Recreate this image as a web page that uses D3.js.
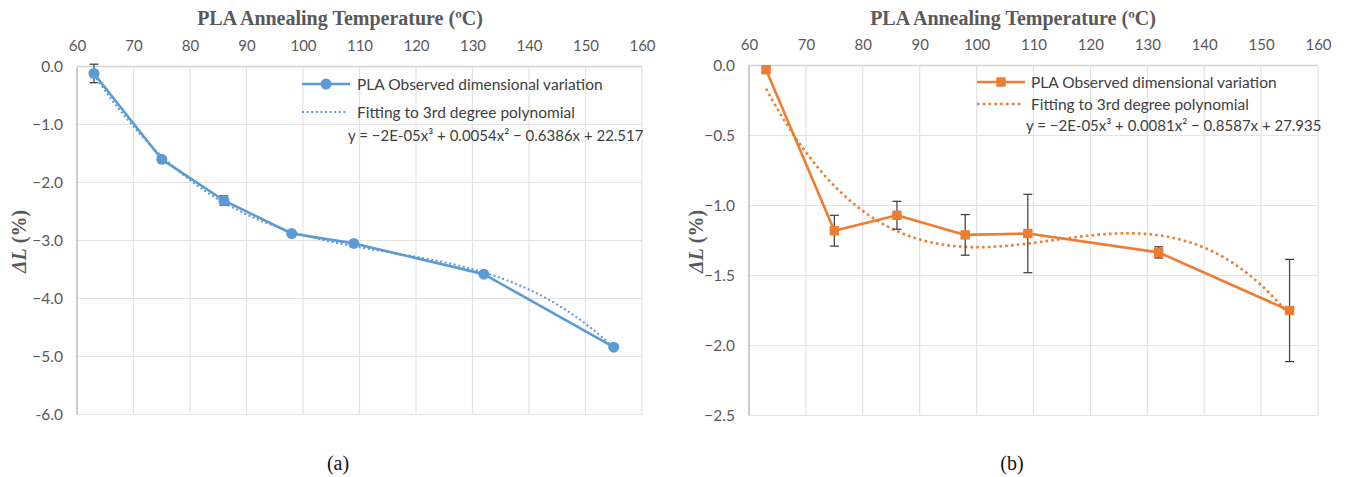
<!DOCTYPE html>
<html>
<head>
<meta charset="utf-8">
<script src="https://cdn.jsdelivr.net/npm/d3@7"></script>
<style>
  html, body { margin: 0; padding: 0; background: #fff; }
  svg { display: block; }
  .tick-label { font-family: Lato, "Open Sans", sans-serif; fill: #595959; }
  .legend-text { font-family: Lato, "Open Sans", sans-serif; fill: #404040; }
</style>
</head>
<body>
<svg id="chart" width="1346" height="477"></svg>
<script>
// Annealing temperatures (°C) shared by both panels
const temperatures = [63, 75, 86, 98, 109, 132, 155];

// Panel (a): observed dimensional variation ΔL (%) and its error
const variationA = [-0.12, -1.60, -2.31, -2.88, -3.05, -3.58, -4.84];
const errorA     = [0.16, 0.04, 0.08, 0.02, 0.02, 0.02, 0.02];

// Panel (b): observed dimensional variation ΔL (%) and its error
const variationB = [-0.03, -1.18, -1.07, -1.21, -1.20, -1.335, -1.75];
const errorB     = [0.02, 0.11, 0.10, 0.145, 0.28, 0.04, 0.365];

// Axis ticks and labels
const xTicks = [60, 70, 80, 90, 100, 110, 120, 130, 140, 150, 160];
const yTicksA = [0, -1, -2, -3, -4, -5, -6];
const yLabelsA = ["0.0", "\u22121.0", "\u22122.0", "\u22123.0", "\u22124.0", "\u22125.0", "-6.0"];
const yTicksB = [0, -0.5, -1, -1.5, -2, -2.5];
const yLabelsB = ["0.0", "\u22120.5", "\u22121.0", "\u22121.5", "\u22122.0", "\u22122.5"];

// Text
const axisTitle = "PLA Annealing Temperature (\u00baC)";
const seriesName = "PLA Observed dimensional variation";
const fitName = "Fitting to 3rd degree polynomial";
const equationA = "y = \u22122E-05x\u00b3 + 0.0054x\u00b2 \u2212 0.6386x + 22.517";
const equationB = "y = \u22122E-05x\u00b3 + 0.0081x\u00b2 \u2212 0.8587x + 27.935";

// Least-squares cubic fit (x is centred/scaled for numerical stability)
function cubicFit(xs, ys) {
  const c = 100, s = 50;
  const ts = xs.map(x => (x - c) / s);
  const n = 4;
  const A = Array.from({length: n}, () => new Array(n + 1).fill(0));
  ts.forEach((t, k) => {
    const p = [1, t, t * t, t * t * t];
    for (let i = 0; i < n; i++) {
      for (let j = 0; j < n; j++) A[i][j] += p[i] * p[j];
      A[i][n] += p[i] * ys[k];
    }
  });
  for (let i = 0; i < n; i++) {
    let piv = i;
    for (let r = i + 1; r < n; r++) if (Math.abs(A[r][i]) > Math.abs(A[piv][i])) piv = r;
    [A[i], A[piv]] = [A[piv], A[i]];
    for (let r = 0; r < n; r++) {
      if (r === i) continue;
      const f = A[r][i] / A[i][i];
      for (let j = i; j <= n; j++) A[r][j] -= f * A[i][j];
    }
  }
  const b = A.map((row, i) => row[n] / row[i]);
  return x => { const t = (x - c) / s; return b[0] + b[1] * t + b[2] * t * t + b[3] * t * t * t; };
}

const svg = d3.select("#chart");

function drawPanel(cfg) {
  const g = svg.append("g");
  const x = d3.scaleLinear().domain([60, 160]).range([cfg.left, cfg.right]);
  const y = d3.scaleLinear().domain(cfg.yDomain).range([cfg.top, cfg.bottom]);

  // Gridlines
  g.append("g").selectAll("line.v").data(xTicks).join("line")
    .attr("x1", d => x(d)).attr("x2", d => x(d))
    .attr("y1", cfg.top).attr("y2", cfg.bottom)
    .attr("stroke", "#e3e3e3").attr("stroke-width", 1.2);
  g.append("g").selectAll("line.h").data(cfg.yTicks).join("line")
    .attr("x1", cfg.left).attr("x2", cfg.right)
    .attr("y1", d => y(d)).attr("y2", d => y(d))
    .attr("stroke", "#e3e3e3").attr("stroke-width", 1.2);

  // Top horizontal axis (labels only) and left vertical axis
  const xAxis = d3.axisTop(x).tickValues(xTicks).tickSize(0).tickPadding(0).tickFormat(d3.format("d"));
  const xg = g.append("g").attr("transform", `translate(0,${cfg.top - 14})`).call(xAxis);
  xg.select(".domain").remove();
  xg.selectAll("text").attr("class", "tick-label").attr("font-size", 15)
    .attr("dy", "-0.1em");

  const yAxis = d3.axisLeft(y).tickValues(cfg.yTicks).tickSize(0).tickPadding(0)
    .tickFormat((d, i) => cfg.yLabels[i]);
  const yg = g.append("g").attr("transform", `translate(${cfg.left - 14},0)`).call(yAxis);
  yg.select(".domain").remove();
  yg.selectAll("text").attr("class", "tick-label").attr("font-size", 15.5);

  g.append("line")
    .attr("x1", cfg.left).attr("x2", cfg.left)
    .attr("y1", cfg.top).attr("y2", cfg.bottom)
    .attr("stroke", "#c4c4c4").attr("stroke-width", 1.6);
  g.append("line")
    .attr("x1", cfg.left).attr("x2", cfg.right)
    .attr("y1", cfg.top).attr("y2", cfg.top)
    .attr("stroke", "#d4d4d4").attr("stroke-width", 1.4);

  // Axis titles
  g.append("text")
    .attr("x", cfg.titleX).attr("y", 25)
    .attr("text-anchor", "middle")
    .attr("font-family", "'Liberation Serif', 'Times New Roman', serif")
    .attr("font-weight", "bold").attr("font-size", 20).attr("fill", "#595959")
    .text(axisTitle);

  const yl = g.append("text")
    .attr("transform", `translate(${cfg.yTitleX},${(cfg.top + cfg.bottom) / 2 + 1}) rotate(-90)`)
    .attr("text-anchor", "middle").attr("dominant-baseline", "central")
    .attr("font-family", "'Liberation Serif', 'Times New Roman', serif")
    .attr("font-weight", "bold").attr("font-size", 20).attr("fill", "#595959");
  yl.append("tspan").attr("font-style", "italic").text("\u0394L");
  yl.append("tspan").text(" (%)");

  // Fitted cubic trendline
  const fit = cubicFit(temperatures, cfg.values);
  const xs = d3.range(temperatures[0], temperatures[temperatures.length - 1] + 0.001, 0.5);
  g.append("path")
    .datum(xs)
    .attr("fill", "none")
    .attr("stroke", cfg.color)
    .attr("stroke-width", cfg.fitWidth)
    .attr("stroke-dasharray", cfg.fitDash)
    .attr("stroke-linecap", cfg.fitCap)
    .attr("d", d3.line().x(d => x(d)).y(d => y(fit(d))));

  // Observed series line
  const pts = temperatures.map((t, i) => ({t, v: cfg.values[i], e: cfg.errors[i]}));
  g.append("path")
    .datum(pts)
    .attr("fill", "none")
    .attr("stroke", cfg.color)
    .attr("stroke-width", 2.6)
    .attr("stroke-linejoin", "round")
    .attr("d", d3.line().x(d => x(d.t)).y(d => y(d.v)));

  // Error bars
  const eb = g.append("g").attr("stroke", "#3a3a3a").attr("stroke-width", 1.2);
  pts.forEach(d => {
    const x0 = x(d.t), y1 = y(d.v + d.e), y2 = y(d.v - d.e);
    eb.append("line").attr("x1", x0).attr("x2", x0).attr("y1", y1).attr("y2", y2);
    eb.append("line").attr("x1", x0 - 4.5).attr("x2", x0 + 4.5).attr("y1", y1).attr("y2", y1);
    eb.append("line").attr("x1", x0 - 4.5).attr("x2", x0 + 4.5).attr("y1", y2).attr("y2", y2);
  });

  // Markers
  if (cfg.marker === "circle") {
    g.append("g").selectAll("circle").data(pts).join("circle")
      .attr("cx", d => x(d.t)).attr("cy", d => y(d.v)).attr("r", 5.5)
      .attr("fill", cfg.color);
  } else {
    g.append("g").selectAll("rect").data(pts).join("rect")
      .attr("x", d => x(d.t) - 4.7).attr("y", d => y(d.v) - 4.7)
      .attr("width", 9.4).attr("height", 9.4)
      .attr("fill", cfg.color);
  }

  // Legend
  const L = cfg.legend;
  g.append("line").attr("x1", L.x0).attr("x2", L.x1).attr("y1", L.y1).attr("y2", L.y1)
    .attr("stroke", cfg.color).attr("stroke-width", 2.6);
  const mx = (L.x0 + L.x1) / 2;
  if (cfg.marker === "circle") {
    g.append("circle").attr("cx", mx).attr("cy", L.y1).attr("r", 5.5).attr("fill", cfg.color);
  } else {
    g.append("rect").attr("x", mx - 4.7).attr("y", L.y1 - 4.7).attr("width", 9.4).attr("height", 9.4)
      .attr("fill", cfg.color);
  }
  g.append("text").attr("class", "legend-text").attr("x", L.tx).attr("y", L.y1)
    .attr("dominant-baseline", "central").attr("font-size", 15.5).text(seriesName);

  g.append("line").attr("x1", L.x0).attr("x2", L.x1 - 3).attr("y1", L.y2).attr("y2", L.y2)
    .attr("stroke", cfg.color).attr("stroke-width", cfg.fitWidth)
    .attr("stroke-dasharray", cfg.fitDash).attr("stroke-linecap", cfg.fitCap);
  g.append("text").attr("class", "legend-text").attr("x", L.tx).attr("y", L.y2)
    .attr("dominant-baseline", "central").attr("font-size", 15.5).text(fitName);

  g.append("text").attr("class", "legend-text").attr("x", L.ex).attr("y", L.y3)
    .attr("dominant-baseline", "central").attr("font-size", 15).text(cfg.equation);

  // Sub-figure caption
  g.append("text")
    .attr("x", cfg.captionX).attr("y", 470)
    .attr("text-anchor", "middle")
    .attr("font-family", "'Liberation Serif', 'Times New Roman', serif")
    .attr("font-size", 20).attr("fill", "#111")
    .text(cfg.caption);
}

drawPanel({
  left: 77, right: 642, top: 66.5, bottom: 414.5,
  yDomain: [0, -6], yTicks: yTicksA, yLabels: yLabelsA,
  values: variationA, errors: errorA,
  color: "#5b9bd5", marker: "circle",
  fitWidth: 2, fitDash: "2 2.6", fitCap: "butt",
  titleX: 340, yTitleX: 19, captionX: 338, caption: "(a)",
  equation: equationA,
  legend: {x0: 302, x1: 350, tx: 357, ex: 348, y1: 84, y2: 112, y3: 135}
});

drawPanel({
  left: 749, right: 1318, top: 65.5, bottom: 415.5,
  yDomain: [0, -2.5], yTicks: yTicksB, yLabels: yLabelsB,
  values: variationB, errors: errorB,
  color: "#ed7d31", marker: "square",
  fitWidth: 2.6, fitDash: "2.6 3.2", fitCap: "butt",
  titleX: 1013, yTitleX: 696, captionX: 1012, caption: "(b)",
  equation: equationB,
  legend: {x0: 977, x1: 1025, tx: 1031, ex: 1026, y1: 82, y2: 104, y3: 125}
});
</script>
</body>
</html>
